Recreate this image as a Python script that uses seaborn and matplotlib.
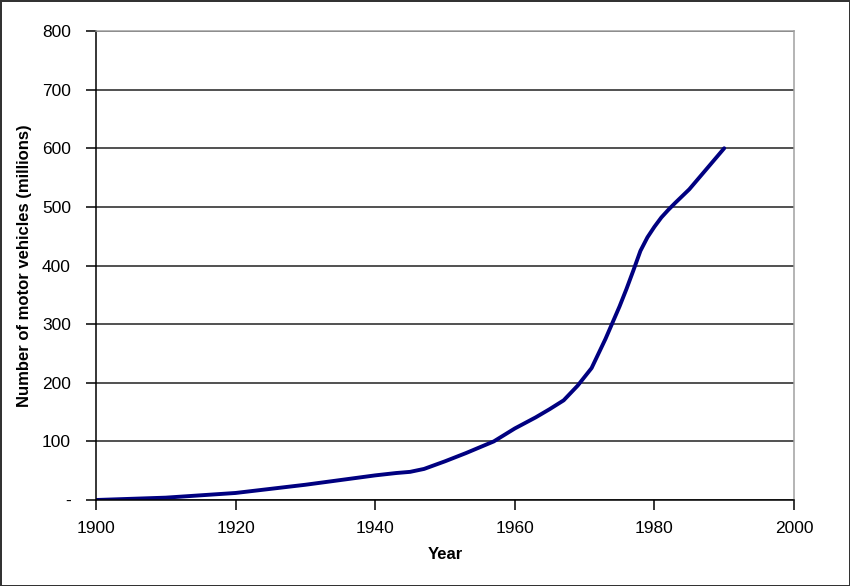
import matplotlib
matplotlib.use("Agg")
import matplotlib.pyplot as plt
import seaborn as sns
import pandas as pd
from matplotlib.ticker import FuncFormatter

# values
years = [1900, 1905, 1910, 1915, 1920, 1925, 1930, 1935, 1940, 1943, 1945, 1947,
         1950, 1953, 1955, 1957, 1960, 1963, 1965, 1967, 1969, 1971, 1973, 1975,
         1976, 1977, 1978, 1979, 1980, 1981, 1982, 1983, 1985, 1990]
vehicles = [0, 2, 4, 8, 12, 19, 26, 34, 42, 46, 48, 53,
            66, 80, 90, 100, 122, 141, 155, 170, 195, 225, 275, 330,
            360, 392, 425, 448, 466, 482, 495, 507, 530, 600]
y_ticks = [0, 100, 200, 300, 400, 500, 600, 700, 800]
x_ticks = [1900, 1920, 1940, 1960, 1980, 2000]

df = pd.DataFrame({"Year": years, "Vehicles": vehicles})

sns.set_style("white")
plt.rcParams['font.family'] = ['Liberation Sans', 'DejaVu Sans']
plt.rcParams['text.color'] = 'black'
plt.rcParams['axes.labelcolor'] = 'black'
plt.rcParams['xtick.color'] = 'black'
plt.rcParams['ytick.color'] = 'black'

fig = plt.figure(figsize=(8.5, 5.86), dpi=100)
fig.patch.set_edgecolor("#333333")
fig.patch.set_linewidth(2)
ax = fig.add_axes([96 / 850, 86 / 586, 698 / 850, 469 / 586])

sns.lineplot(data=df, x="Year", y="Vehicles", color="#000080", linewidth=2.8, ax=ax)

ax.set_xlim(1900, 2000)
ax.set_ylim(0, 800)
ax.set_xticks(x_ticks)
ax.set_yticks(y_ticks)
ax.yaxis.set_major_formatter(FuncFormatter(lambda v, p: "-" if v == 0 else f"{int(v)}"))
ax.grid(axis="y", color="#222222", linewidth=1.1)
ax.set_axisbelow(True)

for s in ["left", "bottom"]:
    ax.spines[s].set_color("black")
    ax.spines[s].set_linewidth(1.1)
for s in ["top", "right"]:
    ax.spines[s].set_color("#a0a0a0")
    ax.spines[s].set_linewidth(1.1)

ax.tick_params(axis="both", direction="out", length=7, width=1.1, color="black",
               labelcolor="black", labelsize=12.5, bottom=True, left=True)
ax.tick_params(axis="y", pad=11)
ax.tick_params(axis="x", pad=8)

ax.set_xlabel("Year", fontsize=12, fontweight="bold", labelpad=8)
ax.set_ylabel("Number of motor vehicles (millions)", fontsize=12, fontweight="bold", labelpad=7)

fig.savefig("out.png", dpi=100, edgecolor=fig.get_edgecolor())
